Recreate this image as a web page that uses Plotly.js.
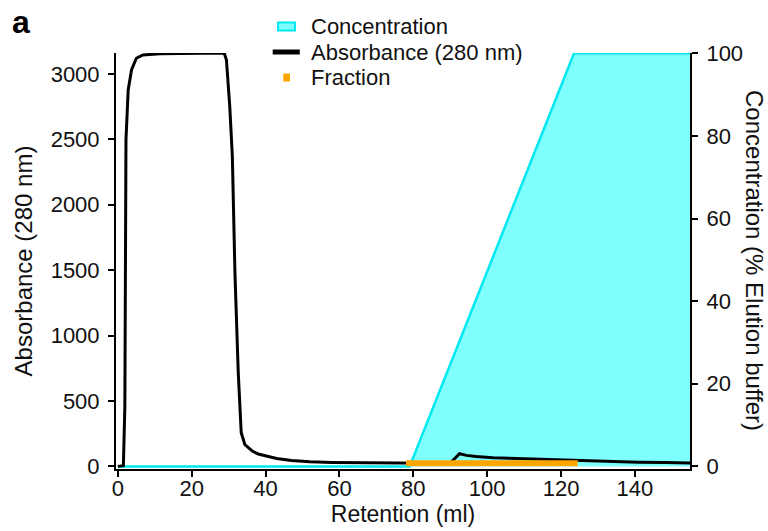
<!DOCTYPE html>
<html>
<head>
<meta charset="utf-8">
<script src="https://cdn.plot.ly/plotly-3.0.1.min.js"></script>
<style>html,body{margin:0;padding:0;background:#fff;}#chart{width:768px;height:531px;}</style>
</head>
<body>
<div id="chart"></div>
<script>
// Absorbance (280 nm) trace
const retention = [0, 1, 1.5, 1.9, 2.2, 2.8, 3.7, 5, 6.8, 11.4, 20, 28.8, 29.4, 30.3, 31, 31.7, 32.6, 33.4, 34.4, 35.5, 36.5, 38, 40, 43, 47, 52, 58, 65, 72, 78, 85, 90, 91, 92.5, 94.4, 97, 101.6, 110, 118, 125, 133, 141, 148, 155];
const absorbance = [0, 0, 5, 460, 2495, 2878, 3031, 3120, 3145, 3155, 3160, 3160, 3107, 2750, 2368, 1480, 716, 257, 166, 140, 115, 95, 80, 60, 45, 35, 30, 27, 25, 22, 24, 26, 55, 97, 84, 75, 66, 58, 52, 44, 38, 32, 29, 26];

// Concentration (% elution buffer) gradient
const concX = [0, 79, 123.5, 155];
const concY = [0, 0, 100, 100];

// Collected fraction range
const fracX = [78, 124.5];
const fracY = [23, 23];

const xTicks = [0, 20, 40, 60, 80, 100, 120, 140];
const absTicks = [0, 500, 1000, 1500, 2000, 2500, 3000];
const concTicks = [0, 20, 40, 60, 80, 100];
const legendLabels = ['Concentration', 'Absorbance (280 nm)', 'Fraction'];

const FONT = 'Liberation Sans, Arial, sans-serif';
const TXT = '#111';
const cyanLine = '#00e8f0';
const cyanFill = '#80ffff';
const orange = '#ffa500';

const traces = [
  {x: concX, y: concY, yaxis: 'y', type: 'scatter', mode: 'lines', fill: 'tozeroy', name: legendLabels[0],
   fillcolor: cyanFill, line: {color: cyanLine, width: 2.5}},
  {x: retention, y: absorbance, yaxis: 'y2', type: 'scatter', mode: 'lines', name: legendLabels[1],
   line: {color: '#000', width: 3}},
  {x: fracX, y: fracY, yaxis: 'y2', type: 'scatter', mode: 'lines', name: legendLabels[2],
   line: {color: orange, width: 6}}
];

const axisCommon = {
  showgrid: false, zeroline: false, showline: true, linecolor: '#000', linewidth: 2,
  ticks: 'outside', ticklen: 6, tickwidth: 2, tickcolor: '#000',
  tickfont: {family: FONT, size: 22, color: TXT}
};

// legend drawn in paper space (compact spacing as in the original figure)
const L = {textX: 0.3364, rowY: [1.0637, 1.0024, 0.9411]};
const legendShapes = [
  {type: 'rect', xref: 'paper', yref: 'paper', x0: 0.2822, x1: 0.3118, y0: 1.0541, y1: 1.0733,
   fillcolor: cyanFill, line: {color: cyanLine, width: 2}},
  {type: 'line', xref: 'paper', yref: 'paper', x0: 0.273, x1: 0.3202, y0: 1.0024, y1: 1.0024,
   line: {color: '#000', width: 5}},
  {type: 'rect', xref: 'paper', yref: 'paper', x0: 0.2914, x1: 0.3031, y0: 0.9315, y1: 0.9507,
   fillcolor: orange, line: {width: 0}}
];
const legendAnns = legendLabels.map((t, i) => ({
  text: t, xref: 'paper', yref: 'paper', x: L.textX, y: L.rowY[i], xanchor: 'left', yanchor: 'middle',
  showarrow: false, font: {family: FONT, size: 22, color: TXT}
}));

const layout = {
  width: 768, height: 531,
  margin: {l: 116, r: 78, t: 53, b: 62, autoexpand: false},
  paper_bgcolor: '#fff', plot_bgcolor: '#fff',
  font: {family: FONT, size: 22, color: TXT},
  showlegend: false,
  xaxis: Object.assign({}, axisCommon, {
    range: [-0.5, 154.9], tickvals: xTicks, ticklabelstandoff: -7,
    title: {text: 'Retention (ml)', standoff: 0, font: {family: FONT, size: 23, color: TXT}}
  }),
  yaxis: Object.assign({}, axisCommon, {
    side: 'right', range: [-0.634, 100.07], tickvals: concTicks, ticklabelstandoff: 4
  }),
  yaxis2: Object.assign({}, axisCommon, {
    side: 'left', overlaying: 'y', range: [-20, 3160], tickvals: absTicks, ticklabelstandoff: 4,
    title: {text: 'Absorbance (280 nm)', standoff: 11, font: {family: FONT, size: 24, color: TXT}}
  }),
  shapes: legendShapes,
  annotations: legendAnns.concat([
    {text: 'Concentration (% Elution buffer)', xref: 'paper', yref: 'paper', x: 1.1132, y: 0.5,
     xanchor: 'center', yanchor: 'middle', textangle: 90, showarrow: false,
     font: {family: FONT, size: 24, color: TXT}},
    {text: '<b>a</b>', xref: 'paper', yref: 'paper', x: -0.185, y: 1.075,
     xanchor: 'left', yanchor: 'middle', showarrow: false,
     font: {family: FONT, size: 32, color: '#000'}}
  ])
};

Plotly.newPlot('chart', traces, layout, {staticPlot: true, displayModeBar: false});
</script>
</body>
</html>
